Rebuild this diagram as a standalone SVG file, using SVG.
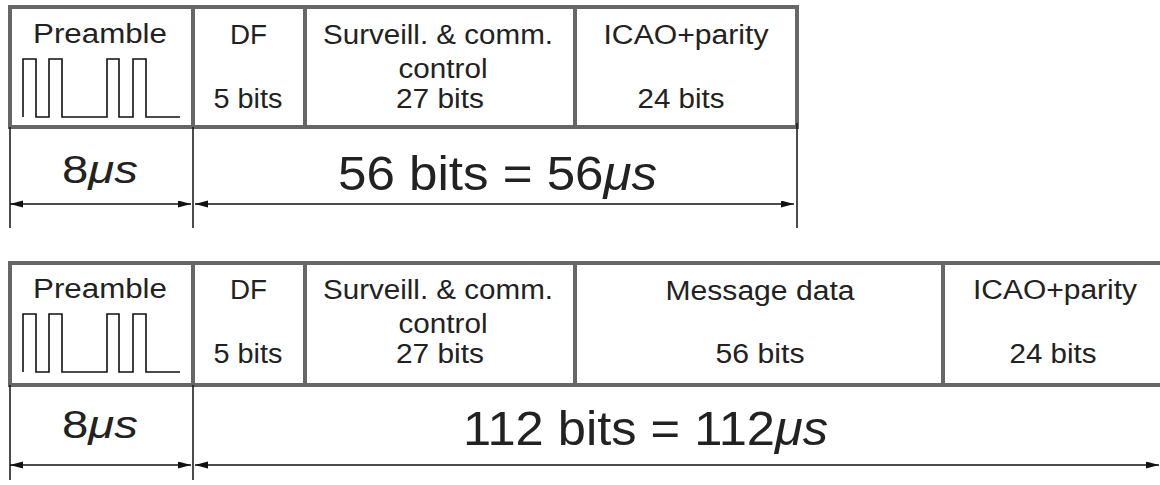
<svg xmlns="http://www.w3.org/2000/svg" width="1160" height="485" viewBox="0 0 1160 485">
  <style>
    .frame { fill: #ffffff; stroke: #666666; stroke-width: 4; }
    .div { stroke: #666666; stroke-width: 4; }
    .wave { fill: none; stroke: #111111; stroke-width: 1.6; }
    .lbl { font-family: "Liberation Sans", Arial, sans-serif; font-size: 27px; fill: #222222; text-anchor: middle; }
    .dim { font-family: "Liberation Sans", Arial, sans-serif; fill: #222222; text-anchor: middle; }
    .tick { stroke: #111111; stroke-width: 1.5; }
    .arr { stroke: #111111; stroke-width: 1.5; marker-start: url(#ah); marker-end: url(#ah); }
    .it { font-style: italic; }
  </style>
  <defs>
    <marker id="ah" markerUnits="userSpaceOnUse" markerWidth="14" markerHeight="8" refX="13" refY="3.5" orient="auto-start-reverse">
      <path d="M0,0 L13,3.5 L0,7 z" fill="#111111"/>
    </marker>
  </defs>
  <rect width="1160" height="485" fill="#ffffff"/>

  <!-- Short frame: 56-bit reply -->
  <g id="short-frame">
    <rect class="frame" x="10" y="7" width="787" height="120"/>
    <line class="div" x1="193" y1="7" x2="193" y2="127"/>
    <line class="div" x1="305" y1="7" x2="305" y2="127"/>
    <line class="div" x1="575" y1="7" x2="575" y2="127"/>
  </g>
  <g id="short-preamble">
    <text class="lbl" x="100" y="43" textLength="134" lengthAdjust="spacingAndGlyphs">Preamble</text>
    <path class="wave" d="M23,117 V59 H36 V117 H49 V59 H62 V117 H107 V59 H119 V117 H133 V59 H146 V117 H180"/>
  </g>
  <g id="short-df">
    <text class="lbl" x="248.5" y="44" textLength="37" lengthAdjust="spacingAndGlyphs">DF</text>
    <text class="lbl" x="248" y="108" textLength="69" lengthAdjust="spacingAndGlyphs">5 bits</text>
  </g>
  <g id="short-control">
    <text class="lbl" x="438" y="44" textLength="230" lengthAdjust="spacingAndGlyphs">Surveill. &amp; comm.</text>
    <text class="lbl" x="443" y="78" textLength="89" lengthAdjust="spacingAndGlyphs">control</text>
    <text class="lbl" x="440" y="108" textLength="88" lengthAdjust="spacingAndGlyphs">27 bits</text>
  </g>
  <g id="short-icao">
    <text class="lbl" x="686" y="44" textLength="165" lengthAdjust="spacingAndGlyphs">ICAO+parity</text>
    <text class="lbl" x="681" y="108" textLength="87" lengthAdjust="spacingAndGlyphs">24 bits</text>
  </g>

  <!-- Long frame: 112-bit reply -->
  <g id="long-frame">
    <rect class="frame" x="10" y="263" width="1156" height="122"/>
    <line class="div" x1="193" y1="263" x2="193" y2="385"/>
    <line class="div" x1="305" y1="263" x2="305" y2="385"/>
    <line class="div" x1="575" y1="263" x2="575" y2="385"/>
    <line class="div" x1="943" y1="263" x2="943" y2="385"/>
  </g>
  <g id="long-preamble">
    <text class="lbl" x="100" y="298" textLength="134" lengthAdjust="spacingAndGlyphs">Preamble</text>
    <path class="wave" d="M23,372 V314 H36 V372 H49 V314 H62 V372 H107 V314 H119 V372 H133 V314 H146 V372 H180"/>
  </g>
  <g id="long-df">
    <text class="lbl" x="248.5" y="299" textLength="37" lengthAdjust="spacingAndGlyphs">DF</text>
    <text class="lbl" x="248" y="363" textLength="69" lengthAdjust="spacingAndGlyphs">5 bits</text>
  </g>
  <g id="long-control">
    <text class="lbl" x="438" y="299" textLength="230" lengthAdjust="spacingAndGlyphs">Surveill. &amp; comm.</text>
    <text class="lbl" x="443" y="333" textLength="89" lengthAdjust="spacingAndGlyphs">control</text>
    <text class="lbl" x="440" y="363" textLength="88" lengthAdjust="spacingAndGlyphs">27 bits</text>
  </g>
  <g id="long-message">
    <text class="lbl" x="760" y="300" textLength="189" lengthAdjust="spacingAndGlyphs">Message data</text>
    <text class="lbl" x="760" y="363" textLength="89" lengthAdjust="spacingAndGlyphs">56 bits</text>
  </g>
  <g id="long-icao">
    <text class="lbl" x="1055" y="299" textLength="164" lengthAdjust="spacingAndGlyphs">ICAO+parity</text>
    <text class="lbl" x="1053" y="363" textLength="87" lengthAdjust="spacingAndGlyphs">24 bits</text>
  </g>

  <!-- Duration dimension lines -->
  <g id="connectors">
    <line class="tick" x1="10" y1="127" x2="10" y2="228"/>
    <line class="tick" x1="193" y1="127" x2="193" y2="228"/>
    <line class="tick" x1="797" y1="123" x2="797" y2="228"/>
    <line class="arr" x1="10" y1="204" x2="191" y2="204"/>
    <line class="arr" x1="195" y1="204" x2="794" y2="204"/>

    <line class="tick" x1="10" y1="385" x2="10" y2="480"/>
    <line class="tick" x1="193" y1="385" x2="193" y2="480"/>
    <line class="arr" x1="10" y1="465" x2="191" y2="465"/>
    <line class="arr" x1="195" y1="465" x2="1159" y2="465"/>
  </g>

  <g id="durations">
    <text class="dim" x="100" y="183" font-size="38" textLength="76" lengthAdjust="spacingAndGlyphs">8<tspan class="it">μs</tspan></text>
    <text class="dim" x="497.5" y="190" font-size="48" textLength="319" lengthAdjust="spacingAndGlyphs">56 bits = 56<tspan class="it">μs</tspan></text>
    <text class="dim" x="100" y="438" font-size="38" textLength="76" lengthAdjust="spacingAndGlyphs">8<tspan class="it">μs</tspan></text>
    <text class="dim" x="645.5" y="445" font-size="48" textLength="365" lengthAdjust="spacingAndGlyphs">112 bits = 112<tspan class="it">μs</tspan></text>
  </g>
</svg>
